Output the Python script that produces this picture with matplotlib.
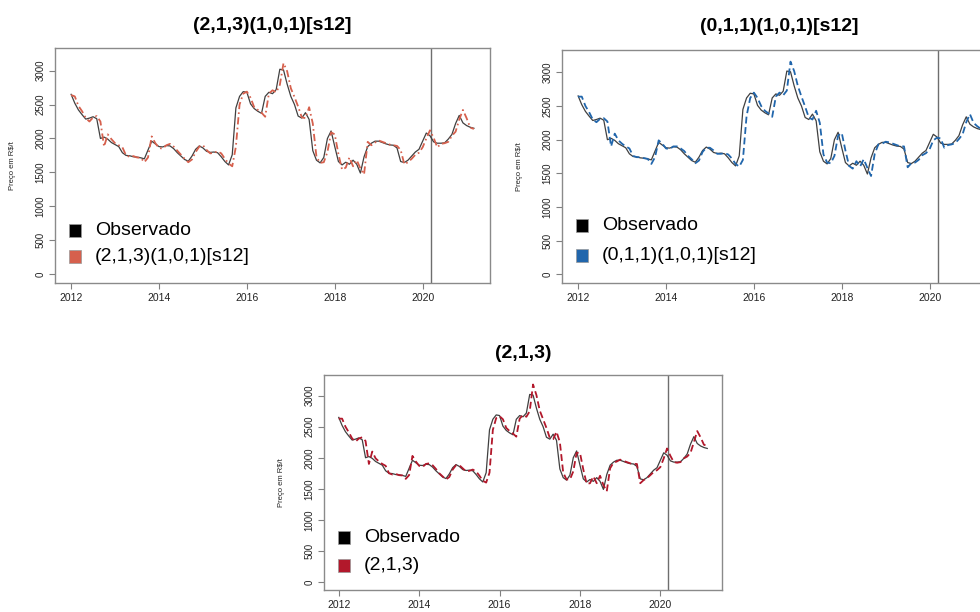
import numpy as np
import matplotlib
matplotlib.use("Agg")
import matplotlib.pyplot as plt
from matplotlib.patches import Rectangle

plt.rcParams['font.family'] = ['Liberation Sans', 'DejaVu Sans']

# preço mensal observado, jan/2012 a mar/2021 (R$/t)
observado = [
    2650, 2520, 2420, 2350, 2285, 2300, 2320, 2290, 2000, 2020, 1990, 1940,
    1910, 1880, 1790, 1750, 1745, 1730, 1725, 1715, 1700, 1830, 1960, 1920,
    1880, 1875, 1895, 1890, 1850, 1790, 1740, 1690, 1665, 1740, 1840, 1890,
    1860, 1810, 1795, 1800, 1790, 1730, 1660, 1610, 1760, 2450, 2620, 2690,
    2680, 2510, 2440, 2400, 2370, 2620, 2680, 2660, 2720, 3020, 3010, 2800,
    2620, 2500, 2330, 2300, 2380, 2280, 1820, 1680, 1640, 1720, 2000, 2110,
    1880, 1660, 1610, 1650, 1620, 1680, 1620, 1490, 1730, 1880, 1930, 1960,
    1960, 1940, 1920, 1905, 1900, 1860, 1660, 1645, 1680, 1740, 1800, 1840,
    1960, 2080, 2040, 1950, 1930, 1930, 1935, 1990, 2060, 2220, 2340, 2230,
    2190, 2165, 2150]

# valores ajustados de cada modelo
ajuste_sarima_213 = [
    2640, 2620, 2480, 2400, 2300, 2250, 2310, 2330, 2250, 1880, 2060, 1990,
    1930, 1900, 1870, 1750, 1730, 1740, 1720, 1715, 1650, 1720, 2030, 1930,
    1860, 1850, 1900, 1920, 1880, 1820, 1760, 1700, 1650, 1690, 1800, 1880,
    1900, 1830, 1780, 1790, 1810, 1780, 1700, 1630, 1590, 1880, 2500, 2660,
    2690, 2600, 2460, 2420, 2380, 2320, 2660, 2710, 2680, 2790, 3110, 2990,
    2740, 2610, 2470, 2310, 2300, 2460, 2220, 1730, 1640, 1650, 1800, 2090,
    2060, 1770, 1540, 1570, 1720, 1590, 1680, 1560, 1470, 1950, 1900, 1940,
    1970, 1950, 1930, 1910, 1900, 1890, 1830, 1620, 1650, 1700, 1760, 1790,
    1870, 2000, 2120, 2010, 1870, 1920, 1930, 1950, 2040, 2100, 2280, 2420,
    2300, 2160, 2140]

ajuste_sarima_011 = [
    2640, 2640, 2500, 2410, 2300, 2260, 2310, 2320, 2270, 1900, 2090, 1990,
    1940, 1900, 1870, 1760, 1740, 1740, 1725, 1715, 1640, 1740, 1990, 1940,
    1870, 1860, 1900, 1900, 1870, 1830, 1760, 1710, 1650, 1690, 1820, 1880,
    1880, 1840, 1790, 1790, 1800, 1780, 1720, 1640, 1600, 1700, 2350, 2620,
    2700, 2620, 2500, 2430, 2390, 2340, 2640, 2700, 2660, 2730, 3160, 3020,
    2800, 2640, 2490, 2330, 2300, 2430, 2250, 1780, 1660, 1650, 1760, 2060,
    2100, 1840, 1610, 1570, 1680, 1600, 1710, 1580, 1460, 1790, 1930, 1940,
    1970, 1960, 1940, 1920, 1900, 1900, 1590, 1650, 1660, 1700, 1770, 1800,
    1860, 1990, 2030, 2020, 1880, 1920, 1930, 1950, 2010, 2080, 2260, 2380,
    2250, 2200, 2160]

ajuste_arima_213 = [
    2630, 2630, 2500, 2410, 2310, 2260, 2310, 2330, 2270, 1900, 2100, 1990,
    1940, 1900, 1870, 1750, 1730, 1740, 1720, 1715, 1660, 1720, 2030, 1940,
    1870, 1850, 1900, 1910, 1880, 1820, 1750, 1700, 1650, 1690, 1810, 1880,
    1880, 1830, 1780, 1790, 1810, 1780, 1710, 1630, 1600, 1760, 2450, 2640,
    2670, 2620, 2480, 2430, 2390, 2340, 2630, 2690, 2660, 2750, 3180, 3010,
    2760, 2620, 2480, 2320, 2300, 2420, 2250, 1760, 1650, 1650, 1780, 2080,
    2080, 1810, 1580, 1590, 1700, 1590, 1710, 1560, 1460, 1830, 1920, 1940,
    1970, 1950, 1930, 1910, 1900, 1900, 1590, 1640, 1670, 1720, 1770, 1800,
    1850, 1990, 2150, 2030, 1930, 1920, 1930, 1990, 2020, 2080, 2250, 2430,
    2330, 2210, 2190]

titulos = ["(2,1,3)(1,0,1)[s12]", "(0,1,1)(1,0,1)[s12]", "(2,1,3)"]
cores = ["#D6604D", "#2166AC", "#B2182B"]
ajustes = [ajuste_sarima_213, ajuste_sarima_011, ajuste_arima_213]
tracos = [(4, 1.8, 0.9, 1.8), (3.8, 2.0), (3.8, 2.0)]

anos = 2012 + np.arange(len(observado)) / 12
corte = 2020.2
yticks = [0, 500, 1000, 1500, 2000, 2500, 3000]
xticks = [2012, 2014, 2016, 2018, 2020]

W, H = 980, 612
fig = plt.figure(figsize=(W / 100, H / 100), dpi=100)

# caixas dos painéis em pixels: esquerda, direita, topo, base
caixas = [(55, 490, 48, 283), (562, 997, 50, 283), (324, 722, 375, 590)]
legenda_y = [(0.224, 0.112), (0.246, 0.120), (0.243, 0.116)]
titulo_dy = [22, 23.3, 21]

for i in range(3):
    l, r, t, b = caixas[i]
    aw, ah = r - l, b - t
    ax = fig.add_axes([l / W, (H - b) / H, aw / W, ah / H])

    ax.plot(anos, observado, color="#404040", lw=0.9, zorder=2)
    ax.plot(anos, ajustes[i], color=cores[i], lw=1.3, dashes=tracos[i], zorder=3)
    ax.axvline(corte, color="#6e6e6e", lw=1.0, zorder=1)

    ax.set_xlim(2011.633, 2021.533)
    ax.set_ylim(-130, 3333)
    ax.set_xticks(xticks)
    ax.set_yticks(yticks)
    ax.set_xticklabels([str(x) for x in xticks], fontsize=7.5, color="#222222")
    ax.set_yticklabels([str(y) for y in yticks], fontsize=7, color="#222222",
                       rotation=90, va="center")
    ax.tick_params(axis="x", direction="out", length=4, width=0.8,
                   color="#808080", pad=3)
    ax.tick_params(axis="y", direction="out", length=4, width=0.8,
                   color="#808080", pad=3)
    for s in ax.spines.values():
        s.set_color("#8a8a8a")
        s.set_linewidth(1.0)

    ax.set_ylabel("Preço em R$/t", fontsize=5.5, color="#222222")
    ax.yaxis.set_label_coords(-39 / aw, 0.5)

    ax.text(0.5, 1 + titulo_dy[i] / ah, titulos[i], transform=ax.transAxes,
            ha="center", va="center", fontsize=14, fontweight="bold")

    # legenda com quadrados preenchidos
    rotulos = ["Observado", titulos[i]]
    for cor, rot, yy in zip(["black", cores[i]], rotulos, legenda_y[i]):
        ax.add_patch(Rectangle((14 / aw, yy - 6.5 / ah), 12 / aw, 13 / ah,
                               transform=ax.transAxes, facecolor=cor,
                               edgecolor="#999999", lw=0.5, clip_on=False))
        ax.text(40 / aw, yy, rot, transform=ax.transAxes, ha="left",
                va="center", fontsize=14)

fig.savefig("out.png", dpi=100)
